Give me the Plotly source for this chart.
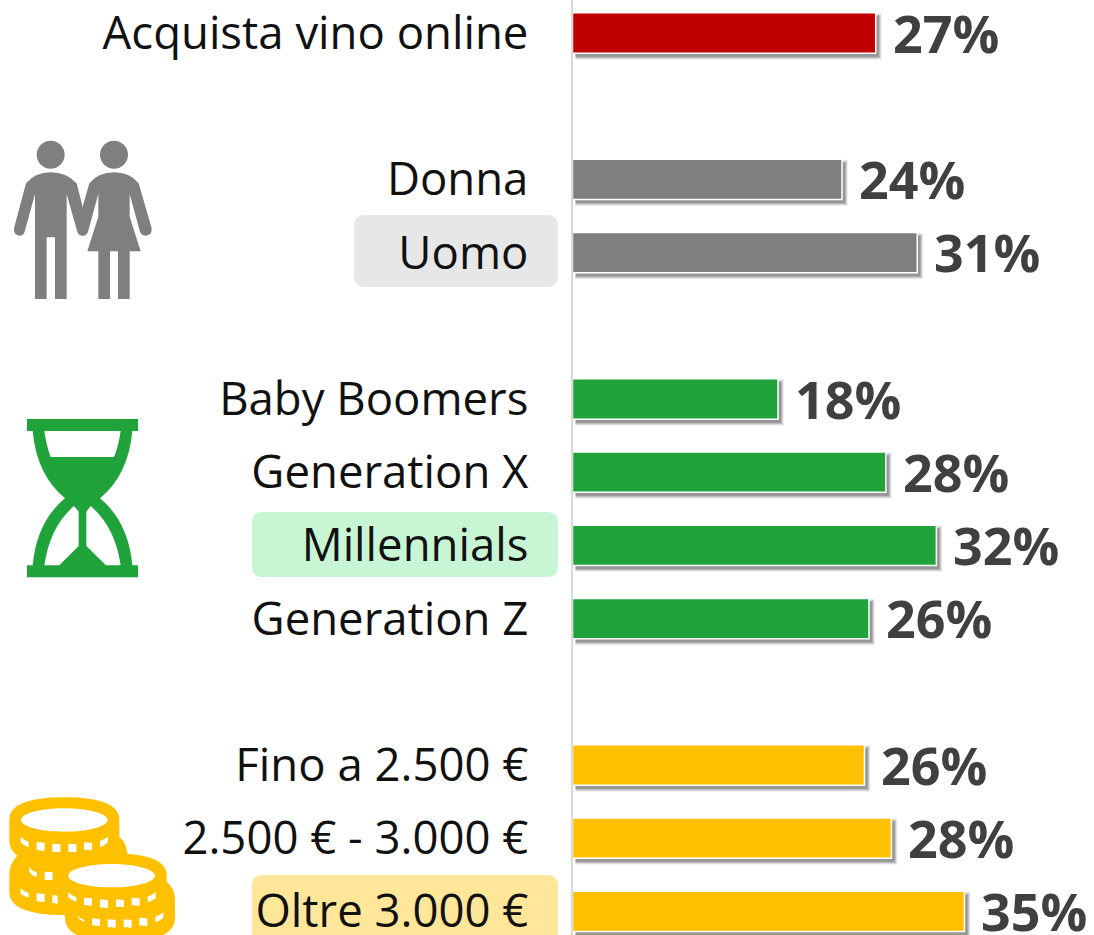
import re
import plotly.graph_objects as go

categories = ["Acquista vino online", "Donna", "Uomo", "Baby Boomers", "Generation X",
              "Millennials", "Generation Z", "Fino a 2.500 €", "2.500 € - 3.000 €", "Oltre 3.000 €"]
values = [27.0, 24.0, 30.7, 18.3, 27.9, 32.4, 26.4, 26.0, 28.4, 34.9]
labels = ["27%", "24%", "31%", "18%", "28%", "32%", "26%", "26%", "28%", "35%"]
bar_colors = ["#C00000", "#7F7F7F", "#7F7F7F", "#20A33A", "#20A33A",
              "#20A33A", "#20A33A", "#FFC000", "#FFC000", "#FFC000"]
axis_order = ["Acquista vino online", " ", "Donna", "Uomo", "  ", "Baby Boomers", "Generation X",
              "Millennials", "Generation Z", "   ", "Fino a 2.500 €", "2.500 € - 3.000 €", "Oltre 3.000 €"]

W, H = 1094, 935
X0 = 572.5
PX_PER_UNIT = 11.23
ROW0, ROW = 33, 73.2
BAR = 0.55


def to_paper(path, scale=1.0, ox=0.0, oy=0.0):
    """Turn an icon path in (scaled) page pixels into paper coordinates."""
    out, is_x = [], True
    for t in re.findall(r"[A-Za-z]|-?[\d.]+", path):
        if t.isalpha():
            out.append(t)
            is_x = True
        else:
            v = float(t) * scale + (ox if is_x else oy)
            out.append(f"{v / W:.5f}" if is_x else f"{1 - v / H:.5f}")
            is_x = not is_x
    return " ".join(out)


def zoomed(path, ox, oy):
    return to_paper(path, 1 / 3, ox, oy)


def ellipse(cx, cy, rx, ry):
    k = 0.5523
    return (f"M{cx - rx},{cy} C{cx - rx},{cy - k * ry} {cx - k * rx},{cy - ry} {cx},{cy - ry} "
            f"C{cx + k * rx},{cy - ry} {cx + rx},{cy - k * ry} {cx + rx},{cy} "
            f"C{cx + rx},{cy + k * ry} {cx + k * rx},{cy + ry} {cx},{cy + ry} "
            f"C{cx - k * rx},{cy + ry} {cx - rx},{cy + k * ry} {cx - rx},{cy} Z")


def tick(x, y0, y1, w=24):
    return f"M{x},{y0} L{x + w},{y0 + 2} L{x + w},{y1 + 2} L{x},{y1} Z"


def pill(x0, y0, x1, y1, r=11):
    return (f"M{x0 + r},{y0} L{x1 - r},{y0} Q{x1},{y0} {x1},{y0 + r} L{x1},{y1 - r} Q{x1},{y1} {x1 - r},{y1} "
            f"L{x0 + r},{y1} Q{x0},{y1} {x0},{y1 - r} L{x0},{y0 + r} Q{x0},{y0} {x0 + r},{y0} Z")


def shape(path, color, layer="above", rule="evenodd"):
    return dict(type="path", path=path, xref="paper", yref="paper", fillcolor=color,
                line=dict(width=0), layer=layer, fillrule=rule)


GREY, GREEN, GOLD = "#7F7F7F", "#20A33A", "#FFC000"
shapes = [
    shape(to_paper(pill(354, 215, 558, 287)), "#E7E7E7", "below"),
    shape(to_paper(pill(252, 512, 558, 577)), "#C8F5D4", "below"),
    shape(to_paper(pill(252, 875, 558, 950)), "#FFE699", "below"),
]

# people icon
man = ("M78,190 Q105,157 152,157 Q200,157 230,190 L264,325 Q266,345 248,347 Q236,347 232,335 L200,222 "
       "L200,537 L165,537 L165,352 L140,352 L140,537 L105,537 L105,222 L74,335 Q70,347 58,347 Q40,345 42,325 Z")
woman = ("M268,190 Q295,157 342,157 Q390,157 416,190 L455,325 Q456,345 438,347 Q425,347 420,335 L389,222 L389,290 "
         "L422,394 L389,394 L389,537 L354,537 L354,394 L330,394 L330,537 L295,537 L295,394 L262,394 L295,290 "
         "L295,222 L264,335 Q258,347 248,347 L248,260 Z")
for p in (man, woman, ellipse(152, 104, 42, 42), ellipse(342, 104, 42, 42)):
    shapes.append(shape(zoomed(p, 0, 120), GREY))

# hourglass icon
glass = ("M81,57 L414,57 L414,93 L397,93 Q385,225 300,295 Q385,365 397,496 L414,496 L414,532 L81,532 L81,496 L98,496 "
         "Q110,365 195,295 Q110,225 98,93 L81,93 Z "
         "M133,93 L362,93 Q355,140 342,171 L152,171 Q140,140 133,93 Z "
         "M133,496 Q150,380 222,318 L236,335 L236,438 L178,496 Z "
         "M362,496 Q345,380 272,318 L259,335 L259,438 L318,496 Z")
shapes.append(shape(zoomed(glass, 0, 400), GREEN))

# coins icon
left_stack = ("M28,105 Q28,37 193,37 Q358,37 358,105 L358,155 Q382,175 382,215 L382,330 L195,390 Q28,390 28,320 "
              "L28,270 Q28,235 52,212 Q28,195 28,165 Z")
left_holes = [ellipse(193, 105, 130, 35), "M62,155 Q72,165 86,170 L86,187 Q70,182 62,172 Z",
              tick(110, 171, 195), tick(157, 176, 200), tick(205, 176, 200, ), tick(252, 172, 194),
              "M300,168 Q314,163 324,155 L324,172 Q314,182 300,187 Z",
              "M87,245 Q95,258 111,262 L111,276 Q92,270 87,258 Z", tick(134, 260, 284),
              "M62,310 Q72,320 86,324 L86,338 Q70,334 62,326 Z", tick(110, 325, 349), tick(157, 330, 354, 16)]
right_stack = ("M195,272 Q195,205 335,205 Q500,205 500,272 L500,290 Q525,310 525,345 L525,400 Q525,470 360,470 "
               "Q195,470 195,400 L195,330 Z")
right_holes = [ellipse(335, 272, 130, 35), "M205,322 Q215,332 229,337 L229,350 Q213,345 205,337 Z",
               tick(252, 338, 360), tick(300, 343, 367), tick(348, 343, 365), tick(395, 338, 360),
               "M443,335 Q457,330 467,322 L467,340 Q457,348 443,352 Z",
               "M230,390 Q238,400 253,405 L253,410 Q238,407 230,390 Z", tick(276, 400, 421), tick(323, 403, 426),
               tick(371, 403, 426), tick(418, 398, 421), "M466,395 Q480,390 490,382 L490,398 Q480,408 466,411 Z"]
shapes.append(shape(zoomed(left_stack, 0, 785), GOLD))
shapes.append(shape(zoomed(" ".join(left_holes), 0, 785), "#FFFFFF", rule="nonzero"))
shapes.append(shape(zoomed(right_stack, 0, 785), GOLD))
shapes.append(shape(zoomed(" ".join(right_holes), 0, 785), "#FFFFFF", rule="nonzero"))

fig = go.Figure()

# soft drop shadow behind each bar
dx = 3 / PX_PER_UNIT
for spread, alpha in ((3.0, 0.08), (2.0, 0.14), (1.0, 0.20), (0.0, 0.22)):
    s = spread / PX_PER_UNIT
    sy = spread / ROW
    fig.add_trace(go.Bar(
        y=categories, x=[v + s for v in values], base=dx, orientation="h",
        width=BAR + 2 * sy, offset=-BAR / 2 - sy + 3.5 / ROW,
        marker=dict(color=f"rgba(50,50,50,{alpha})", line=dict(width=0)),
        hoverinfo="skip", showlegend=False,
    ))

fig.add_trace(go.Bar(
    y=categories, x=values, orientation="h", width=BAR, offset=-BAR / 2,
    marker=dict(color=bar_colors, line=dict(color="#FFFFFF", width=1.5)),
    showlegend=False,
))

annotations = [
    dict(x=v, y=c, xref="x", yref="y", text=t, showarrow=False, xanchor="left", yanchor="middle",
         xshift=15, yshift=1, font=dict(family="Open Sans", size=52, color="#404040", weight="bold"))
    for c, v, t in zip(categories, values, labels)
]

fig.update_layout(
    width=W, height=H, autosize=False,
    margin=dict(l=0, r=0, t=0, b=0, pad=0),
    paper_bgcolor="#FFFFFF", plot_bgcolor="rgba(0,0,0,0)",
    barmode="overlay", showlegend=False,
    shapes=shapes, annotations=annotations,
    font=dict(family="Open Sans"),
    xaxis=dict(domain=[X0 / W, 1], range=[0, (W - X0) / PX_PER_UNIT], visible=False, fixedrange=True),
    yaxis=dict(
        type="category", categoryorder="array", categoryarray=axis_order,
        range=[(H - ROW0) / ROW, -ROW0 / ROW],
        showline=True, linecolor="#D9D9D9", linewidth=2, showgrid=False, zeroline=False,
        ticks="outside", ticklen=33, tickcolor="rgba(0,0,0,0)",
        tickfont=dict(family="Open Sans", size=45.5, color="#111111"),
        automargin=False, fixedrange=True,
    ),
)

fig.write_html("out.html", config=dict(displayModeBar=False),
               post_script="document.body.style.margin='0';document.body.style.overflow='hidden';")
